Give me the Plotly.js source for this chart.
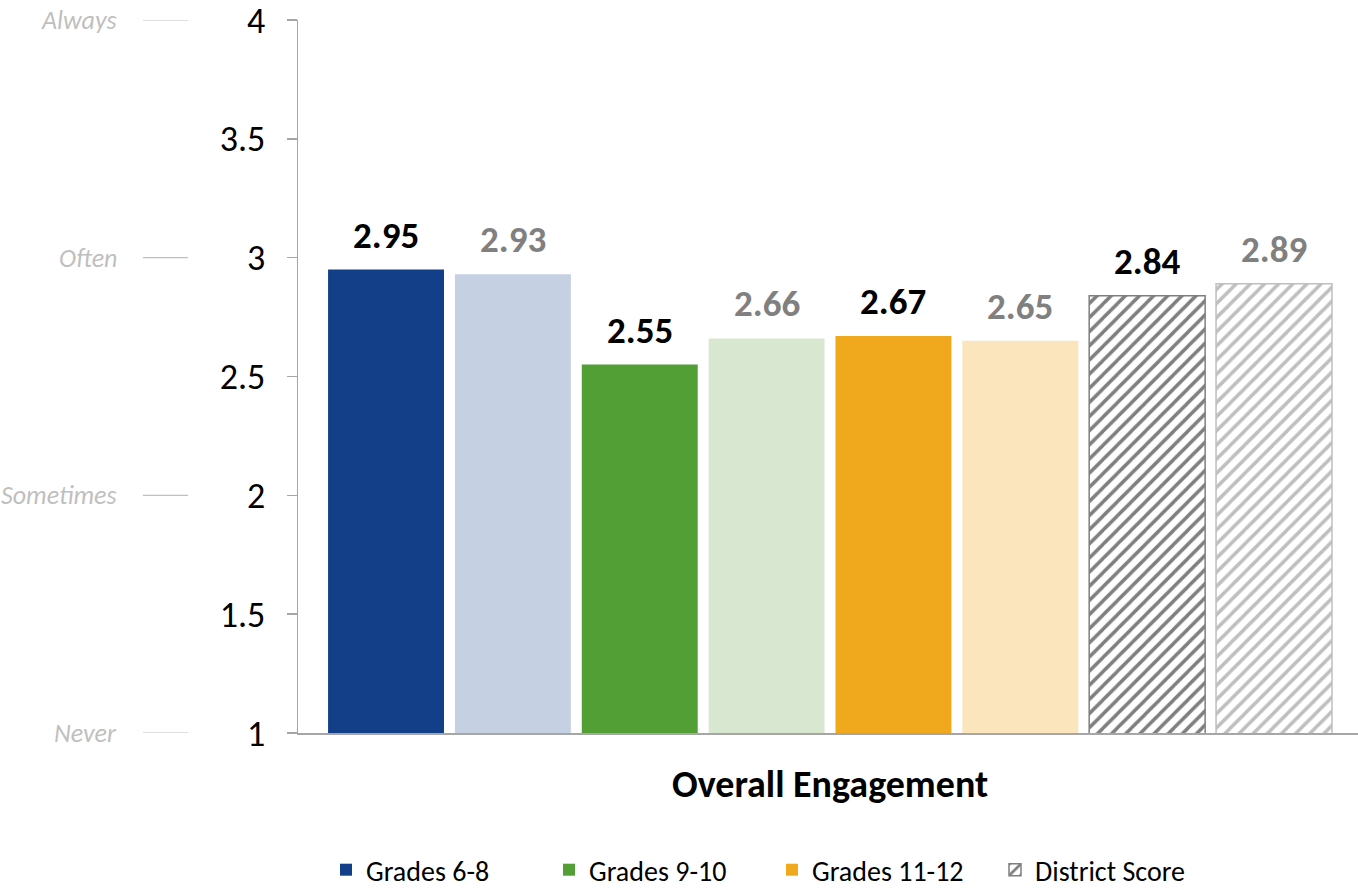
<!DOCTYPE html>
<html>
<head>
<meta charset="utf-8">
<script src="https://cdn.plot.ly/plotly-3.0.1.min.js"></script>
<style>html,body{margin:0;padding:0;background:#fff;}#chart{width:1358px;height:890px;}</style>
</head>
<body>
<div id="chart"></div>
<script>
const groupLabel = 'Overall Engagement';
const seriesNames = ['Grades 6-8', 'Grades 6-8 (comparison)', 'Grades 9-10', 'Grades 9-10 (comparison)', 'Grades 11-12', 'Grades 11-12 (comparison)', 'District Score', 'District Score (comparison)'];
const seriesValues = [2.95, 2.93, 2.55, 2.66, 2.67, 2.65, 2.84, 2.89];
const frequencyLabels = ['Never', 'Sometimes', 'Often', 'Always'];
const frequencyValues = [1, 2, 3, 4];
const yTickVals = [1, 1.5, 2, 2.5, 3, 3.5, 4];
const yTickText = ['1', '1.5', '2', '2.5', '3', '3.5', '4'];

const FONT = 'Carlito, "Open Sans", "Liberation Sans", sans-serif';
const fills = ['#133F88', '#C5D0E3', '#52A035', '#D8E8D0', '#F0A91C', '#FAE5BC', '#ffffff', '#ffffff'];
const hatchColors = [null, null, null, null, null, null, '#7F7F7F', '#BFBFBF'];
const labelColors = ['#000000', '#808080', '#000000', '#808080', '#000000', '#808080', '#000000', '#808080'];
const inLegend = [true, false, true, false, true, false, true, false];

const traces = seriesValues.map((v, i) => {
  const marker = { color: fills[i], line: { width: 0 } };
  if (hatchColors[i]) {
    marker.pattern = { shape: '/', fgcolor: hatchColors[i], bgcolor: '#ffffff', size: 10, solidity: 0.35 };
    marker.line = { color: hatchColors[i], width: 1.5 };
  }
  return {
    type: 'bar',
    name: seriesNames[i].replace(' (comparison)', ''),
    x: [seriesNames[i]],
    y: [v],
    marker: marker,
    showlegend: inLegend[i],
    hoverinfo: 'name+y'
  };
});

const L = 298, W = 1060;
const shapes = frequencyValues.map(v => ({
  type: 'line', xref: 'paper', yref: 'y',
  x0: (143 - L) / W, x1: (188 - L) / W, y0: v, y1: v,
  line: { color: '#BFBFBF', width: 1.2 }
}));
const annotations = frequencyValues.map((v, i) => ({
  xref: 'paper', yref: 'y', x: (119 - L) / W, y: v,
  xanchor: 'right', yanchor: 'middle', showarrow: false,
  text: '<i>' + frequencyLabels[i] + '</i>',
  font: { family: FONT, size: 26, color: '#BFBFBF' }
})).concat(seriesValues.map((v, i) => ({
  xref: 'x', yref: 'y', x: seriesNames[i], y: v,
  xanchor: 'center', yanchor: 'bottom', showarrow: false, yshift: 10,
  text: '<b>' + v.toFixed(2) + '</b>',
  font: { family: FONT, size: 37, color: labelColors[i] }
})));

const layout = {
  width: 1358, height: 890,
  margin: { l: L, r: 0, t: 20, b: 157 },
  paper_bgcolor: '#ffffff', plot_bgcolor: '#ffffff',
  font: { family: FONT, color: '#000000' },
  barmode: 'overlay', bargap: 0.086,
  xaxis: {
    type: 'category', categoryorder: 'array', categoryarray: seriesNames,
    range: [-0.694, 7.662],
    showgrid: false, zeroline: false,
    showline: true, linecolor: '#A6A6A6', linewidth: 1.5,
    ticks: '', tickfont: { family: FONT, size: 38, color: '#000000' },
    tickmode: 'array', tickvals: [3.5], ticktext: ['<b>' + groupLabel + '</b>'],
    ticklabelstandoff: 17
  },
  yaxis: {
    range: [1, 4], showgrid: false, zeroline: false,
    showline: true, linecolor: '#A6A6A6', linewidth: 1.5,
    ticks: 'outside', ticklen: 10, tickcolor: '#A6A6A6', tickwidth: 1.5,
    tickvals: yTickVals, ticktext: yTickText,
    tickfont: { family: FONT, size: 36, color: '#000000' },
    ticklabelstandoff: 14, ticklabeloverflow: 'allow'
  },
  legend: {
    orientation: 'h', x: (326 - L) / W, xanchor: 'left',
    yref: 'container', y: 20 / 890, yanchor: 'middle',
    font: { family: FONT, size: 28, color: '#000000' },
    itemwidth: 30, traceorder: 'normal', entrywidth: 178, entrywidthmode: 'pixels'
  },
  shapes: shapes,
  annotations: annotations
};

Plotly.newPlot('chart', traces, layout, { displayModeBar: false, staticPlot: true });
</script>
</body>
</html>
